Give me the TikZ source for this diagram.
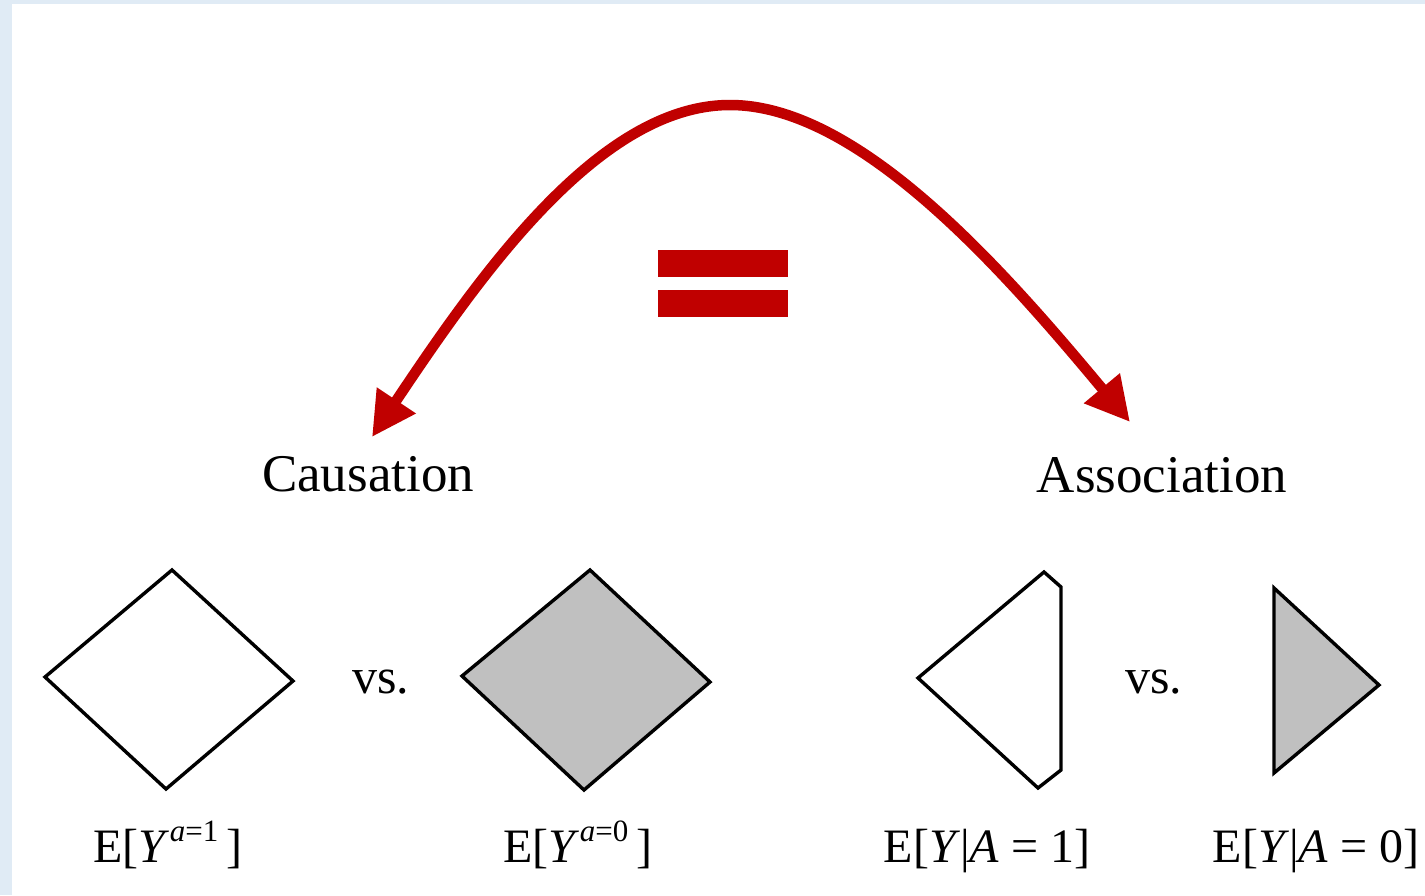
\documentclass[tikz,border=0pt]{standalone}
\usepackage{fontspec}
\setmainfont{Liberation Serif}
\usetikzlibrary{arrows.meta}
\definecolor{bgblue}{HTML}{E0EBF5}
\definecolor{darkred}{HTML}{C00000}
\definecolor{shapegray}{HTML}{C0C0C0}
\newcommand{\supx}[1]{\raisebox{0.42em}{\fontsize{31}{31}\selectfont #1}}
\begin{document}
\begin{tikzpicture}[x=1pt,y=-1pt,
  shapeline/.style={draw=black,line width=3.4pt,line join=miter},
  headtext/.style={inner sep=0pt,anchor=base,font=\fontsize{53}{60}\selectfont},
  vstext/.style={inner sep=0pt,anchor=base,font=\fontsize{50}{58}\selectfont},
  labtext/.style={inner sep=0pt,anchor=base,font=\fontsize{48}{56}\selectfont},
  eqbar/.style={fill=darkred,draw=none},
  bigarrow/.style={draw=darkred,line width=10.5pt,{Triangle[length=44pt,width=44pt]}-{Triangle[length=44pt,width=44pt]}}]
\useasboundingbox (0,0) rectangle (1425,895);
\fill[bgblue] (0,0) rectangle (1425,895);
\fill[white] (12,4) rectangle (1425,895);
% equals sign
\fill[eqbar] (658,250) rectangle (788,277);
\fill[eqbar] (658,290) rectangle (788,317);
% arrow
\coordinate (lt) at (372,437);
\coordinate (pk) at (730,105);
\coordinate (rt) at (1130,422);
\draw[bigarrow] (lt) .. controls (482,272) and (600,105) .. (pk) .. controls (860,105) and (1005,272) .. (rt);
% headings
\node[headtext] (caus) at (368,491) {Causation};
\node[headtext] (assoc) at (1162,492) {Association};
% shapes
\draw[shapeline,fill=white] (172,570) -- (293,681) -- (166,789) -- (45,677) -- cycle;
\draw[shapeline,fill=shapegray] (590,570) -- (710,682) -- (584,790) -- (462,676) -- cycle;
\draw[shapeline,fill=white] (918,678) -- (1044,572) -- (1061,587) -- (1061,770) -- (1038,788) -- cycle;
\draw[shapeline,fill=shapegray] (1274,588) -- (1379,685) -- (1274,773) -- cycle;
% vs
\node[vstext] (vs1) at (381,693) {vs.};
\node[vstext] (vs2) at (1154,693) {vs.};
% labels
\node[labtext] (l1) at (168,862) {E[\textit{Y}\supx{\textit{a}=1}\,]};
\node[labtext] (l2) at (578,862) {E[\textit{Y}\supx{\textit{a}=0}\,]};
\node[labtext] (l3) at (987,862) {E[\textit{Y}|\textit{A} = 1]};
\node[labtext] (l4) at (1316,862) {E[\textit{Y}|\textit{A} = 0]};
\end{tikzpicture}
\end{document}
